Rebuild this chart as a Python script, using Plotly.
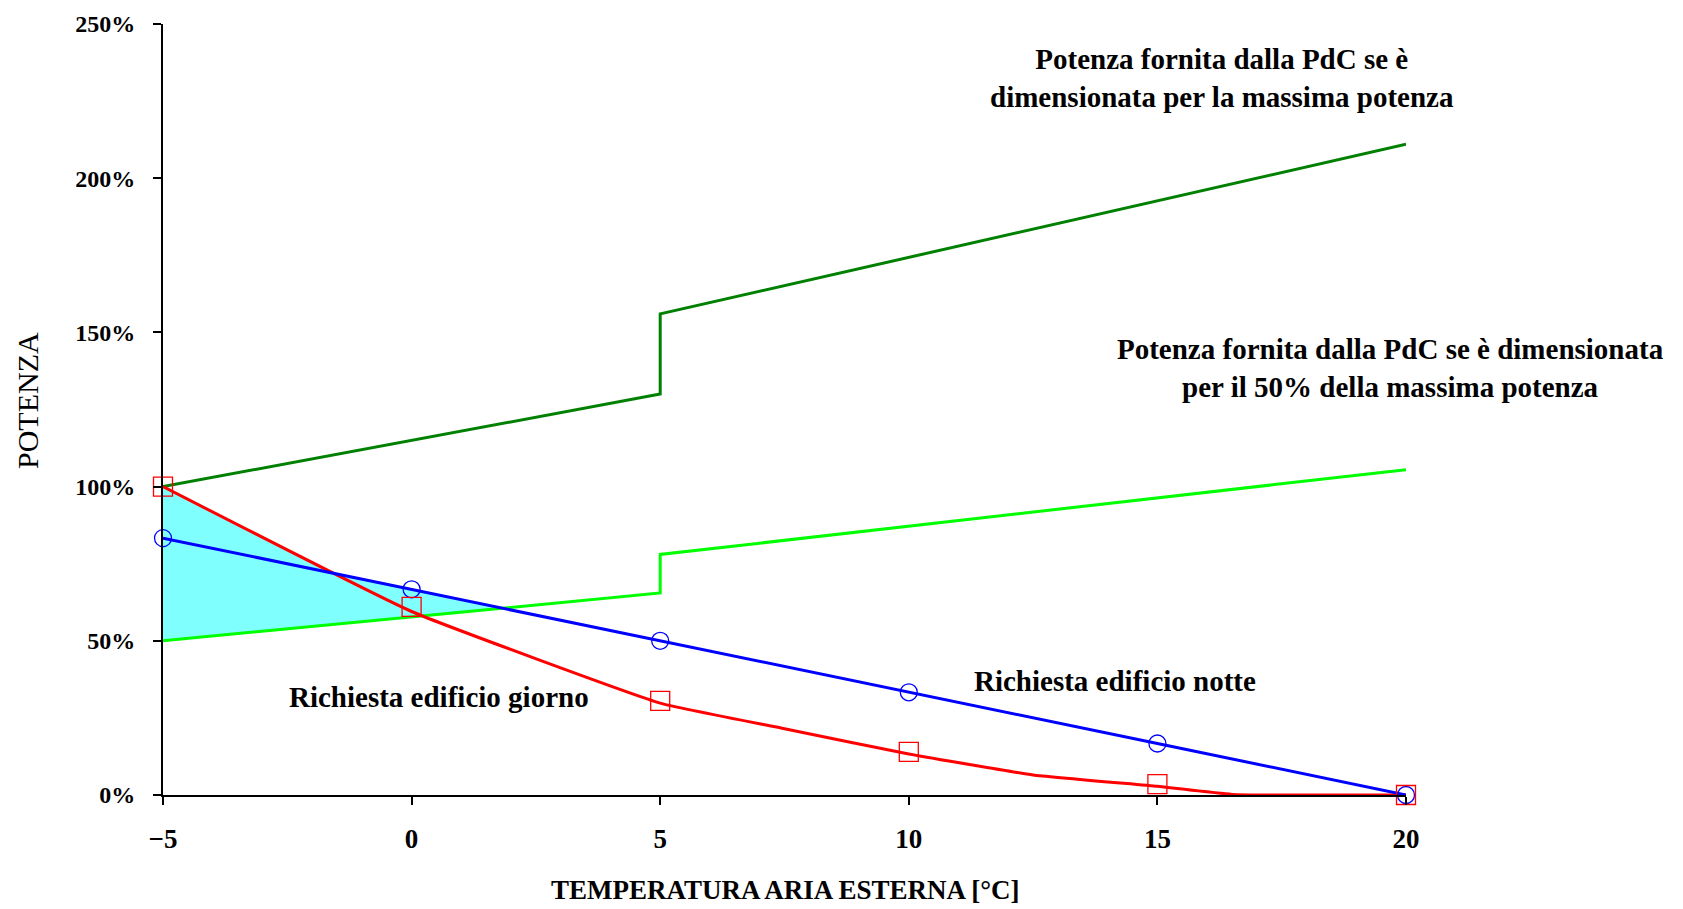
import numpy as np
import plotly.graph_objects as go

# ---- data ----
temp_ticks = [-5, 0, 5, 10, 15, 20]

# heat pump sized for maximum power (step at 5 °C)
pdc_full_x = [-5, 5, 5, 20]
pdc_full_y = [100, 130, 156, 211]

# heat pump sized for 50% of maximum power
pdc_half_x = [-5, 5, 5, 20]
pdc_half_y = [50, 65.5, 78, 105.5]

# building demand, night (blue)
notte_x = [-5, 0, 5, 10, 15, 20]
notte_y = [83.3, 66.7, 50, 33.3, 16.7, 0]

# building demand, day (red) – markers and smoothed line
giorno_x = [-5, 0, 5, 10, 15, 20]
giorno_y = [100, 61, 30.5, 14, 3.5, 0]
giorno_line_x = [-5, 0, 5, 7.5, 10, 12.5, 15, 16.5, 20]
giorno_line_y = [100, 59.5, 29.8, 21.5, 13.3, 6.5, 2.8, 0.2, 0]

y_ticks = [0, 50, 100, 150, 200, 250]
y_tick_text = ["0%", "50%", "100%", "150%", "200%", "250%"]

FONT = "Liberation Serif"

# ---- shaded deficit area: between max(day, night) demand and the 50% heat pump ----
gx = np.linspace(-5, 4.999, 2000)
upper = np.maximum(np.interp(gx, giorno_line_x, giorno_line_y), np.interp(gx, notte_x, notte_y))
lower = np.interp(gx, pdc_half_x[:2], pdc_half_y[:2])
mask = upper >= lower
fx = np.concatenate([gx[mask], gx[mask][::-1]])
fy = np.concatenate([upper[mask], lower[mask][::-1]])

fig = go.Figure()
fig.add_trace(go.Scatter(x=fx, y=fy, fill="toself", fillcolor="#80FFFF",
                         line=dict(width=0), mode="lines", hoverinfo="skip"))
fig.add_trace(go.Scatter(x=pdc_full_x, y=pdc_full_y, mode="lines",
                         line=dict(color="#008000", width=3)))
fig.add_trace(go.Scatter(x=pdc_half_x, y=pdc_half_y, mode="lines",
                         line=dict(color="#00FF00", width=3)))
fig.add_trace(go.Scatter(x=giorno_line_x, y=giorno_line_y, mode="lines",
                         line=dict(color="#FF0000", width=3, shape="spline", smoothing=0.35)))
fig.add_trace(go.Scatter(x=notte_x, y=notte_y, mode="lines+markers", cliponaxis=False,
                         line=dict(color="#0000FF", width=3),
                         marker=dict(symbol="circle-open", size=17, color="#0000FF",
                                     line=dict(width=1.3, color="#0000FF"))))
fig.add_trace(go.Scatter(x=giorno_x, y=giorno_y, mode="markers", cliponaxis=False,
                         marker=dict(symbol="square-open", size=19, color="#FF0000",
                                     line=dict(width=1.3, color="#FF0000"))))

# ---- geometry (page has an 8px body margin) ----
W, H = 1683, 909
OFF = 8
L, T = 163 - OFF, 24 - OFF
R = W - (1406 - OFF)
B = H - (795 - OFF)
pw, ph = W - L - R, H - T - B


def px(xs, ys):
    return (xs - OFF - L) / pw, 1 - (ys - OFF - T) / ph


def label(xs, ys, text, size=29, weight="bold", angle=0):
    x, y = px(xs, ys)
    fig.add_annotation(x=x, y=y, xref="paper", yref="paper", showarrow=False,
                       text=text, align="center", textangle=angle,
                       xanchor="center", yanchor="middle",
                       font=dict(family=FONT, size=size, color="black", weight=weight))


label(1222, 78, "Potenza fornita dalla PdC se è<br>dimensionata per la massima potenza")
label(1390, 368, "Potenza fornita dalla PdC se è dimensionata<br>per il 50% della massima potenza")
label(1115, 681, "Richiesta edificio notte")
label(439, 697, "Richiesta edificio giorno")
label(785, 890, "TEMPERATURA ARIA ESTERNA [°C]", size=27)
label(27, 401, "POTENZA", size=30, weight="normal", angle=-90)

fig.update_layout(
    width=W, height=H, showlegend=False,
    plot_bgcolor="white", paper_bgcolor="white",
    margin=dict(l=L, r=R, t=T, b=B, autoexpand=False),
    font=dict(family=FONT, color="black"),
    xaxis=dict(range=[-5, 20], tickvals=temp_ticks, showgrid=False, zeroline=False,
               showline=True, linecolor="black", linewidth=2, automargin=False,
               ticks="outside", ticklen=8, tickwidth=2, tickcolor="black",
               ticklabelstandoff=11, ticklabeloverflow="allow",
               tickfont=dict(family=FONT, size=27, weight="bold")),
    yaxis=dict(range=[0, 250], tickvals=y_ticks, ticktext=y_tick_text, showgrid=False,
               zeroline=False, showline=True, linecolor="black", linewidth=2,
               automargin=False, ticklabelstandoff=13, ticklabeloverflow="allow",
               ticks="outside", ticklen=8, tickwidth=2, tickcolor="black",
               tickfont=dict(family=FONT, size=24, weight="bold")),
)

fig.write_html("out.html")
